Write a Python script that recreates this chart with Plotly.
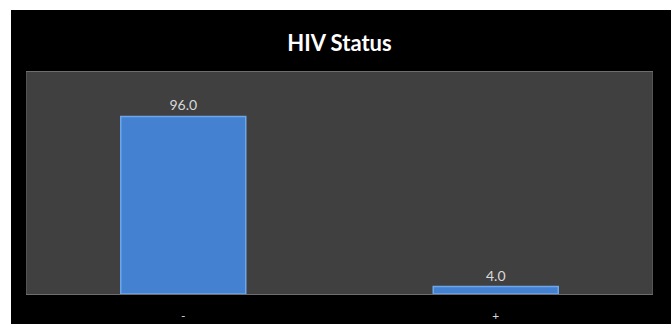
import plotly.graph_objects as go

# HIV status distribution (%)
categories = ["-", "+"]
values = [96.0, 4.0]
value_labels = [f"{v:.1f}" for v in values]

W, H = 671, 324
M_L, M_R, M_T, M_B = 27, 19, 72, 30
plot_w = W - M_L - M_R
plot_h = H - M_T - M_B


def px_to_paper_x(px):
    return (px - M_L) / plot_w


def px_to_paper_y(py):
    return (H - M_B - py) / plot_h


fig = go.Figure(
    go.Bar(
        x=categories,
        y=values,
        text=value_labels,
        textposition="outside",
        textfont=dict(family="Lato, Open Sans, sans-serif", size=14, color="#d9d9d9"),
        cliponaxis=False,
        marker=dict(color="#4581d1", line=dict(color="#6ea6ea", width=1.5)),
        width=0.4,
    )
)

# white margin strips along the left and top edges of the frame
fig.add_shape(type="rect", xref="paper", yref="paper",
              x0=px_to_paper_x(-2), x1=px_to_paper_x(11),
              y0=px_to_paper_y(H + 2), y1=px_to_paper_y(-2),
              fillcolor="white", line=dict(width=0), layer="above")
fig.add_shape(type="rect", xref="paper", yref="paper",
              x0=px_to_paper_x(-2), x1=px_to_paper_x(W + 2),
              y0=px_to_paper_y(10), y1=px_to_paper_y(-2),
              fillcolor="white", line=dict(width=0), layer="above")

fig.update_layout(
    width=W,
    height=H,
    margin=dict(l=M_L, r=M_R, t=M_T, b=M_B, autoexpand=False),
    paper_bgcolor="black",
    plot_bgcolor="#404040",
    showlegend=False,
    title=dict(
        text="<b>HIV Status</b>",
        x=0.5,
        xanchor="center",
        xref="paper",
        y=1 - 43 / H,
        yanchor="middle",
        font=dict(family="Lato, Open Sans, sans-serif", size=22, color="white"),
    ),
    xaxis=dict(
        automargin=False,
        showgrid=False,
        zeroline=False,
        showline=True,
        linecolor="#6e6e6e",
        linewidth=1,
        mirror=True,
        ticks="outside",
        ticklen=11,
        tickcolor="rgba(0,0,0,0)",
        tickfont=dict(family="Lato, Open Sans, sans-serif", size=12, color="#d9d9d9"),
    ),
    yaxis=dict(
        automargin=False,
        range=[0, 120],
        showgrid=False,
        zeroline=False,
        showticklabels=False,
        showline=True,
        linecolor="#555555",
        linewidth=1,
        mirror=True,
    ),
)

fig.write_html("out.html")
